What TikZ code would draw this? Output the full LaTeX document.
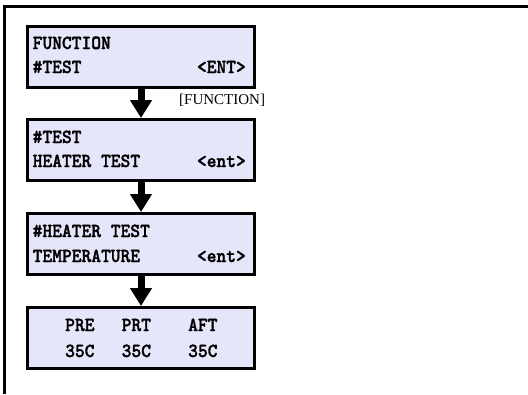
\documentclass[tikz,border=0pt]{standalone}
\usepackage{fontspec}
\newfontfamily\labelfont{Liberation Serif}
\newfontfamily\lcdfont{lmmonolt10-bold.otf}[FakeStretch=0.93,FakeBold=1.5]
\usetikzlibrary{arrows.meta}
\definecolor{lcdfill}{RGB}{230,230,250}
\tikzset{
  lcdbox/.style={draw=black, line width=3pt, fill=lcdfill, minimum width=227pt, minimum height=61pt, inner sep=0pt},
  lcdtext/.style={inner sep=0pt, font=\lcdfont\fontsize{20}{22}\selectfont},
  flowarrow/.style={line width=7pt, -{Triangle[length=18pt,width=21pt]}},
  frameline/.style={line width=2.5pt}
}
\begin{document}
\begin{tikzpicture}[x=1pt,y=-1pt]
\useasboundingbox (0,0) rectangle (528,394);
% frame
\coordinate (fa) at (528,6.5);
\coordinate (fb) at (4.7,6.5);
\coordinate (fc) at (4.7,394);
\draw[frameline] (fa) -- (fb) -- (fc);
% boxes
\node[lcdbox] (b1) at (141,57) {};
\node[lcdbox] (b2) at (141,150) {};
\node[lcdbox] (b3) at (141,244) {};
\node[lcdbox] (b4) at (141,338) {};
% texts box 1
\node[lcdtext, anchor=base west] (t11) at (32.5,49) {FUNCTION};
\node[lcdtext, anchor=base west] (t12) at (32.5,73) {\#TEST};
\node[lcdtext, anchor=base east] (t13) at (246,73) {<ENT>};
% texts box 2
\node[lcdtext, anchor=base west] (t21) at (32.5,143) {\#TEST};
\node[lcdtext, anchor=base west] (t22) at (32.5,167) {HEATER TEST};
\node[lcdtext, anchor=base east] (t23) at (246,167) {<ent>};
% texts box 3
\node[lcdtext, anchor=base west] (t31) at (32.5,237) {\#HEATER TEST};
\node[lcdtext, anchor=base west] (t32) at (32.5,262) {TEMPERATURE};
\node[lcdtext, anchor=base east] (t33) at (246,262) {<ent>};
% texts box 4
\node[lcdtext, anchor=base west] (t41) at (65,331) {PRE};
\node[lcdtext, anchor=base west] (t42) at (121.5,331) {PRT};
\node[lcdtext, anchor=base west] (t43) at (188,331) {AFT};
\node[lcdtext, anchor=base west] (t44) at (65,357) {35C};
\node[lcdtext, anchor=base west] (t45) at (121.5,357) {35C};
\node[lcdtext, anchor=base west] (t46) at (188,357) {35C};
% arrows
\draw[flowarrow] (b1.south) -- (b2.north);
\draw[flowarrow] (b2.south) -- (b3.north);
\draw[flowarrow] (b3.south) -- (b4.north);
% label
\node[inner sep=0pt, anchor=base west, font=\labelfont\fontsize{15}{17}\selectfont] (lbl) at (179,104) {[FUNCTION]};
\end{tikzpicture}
\end{document}
